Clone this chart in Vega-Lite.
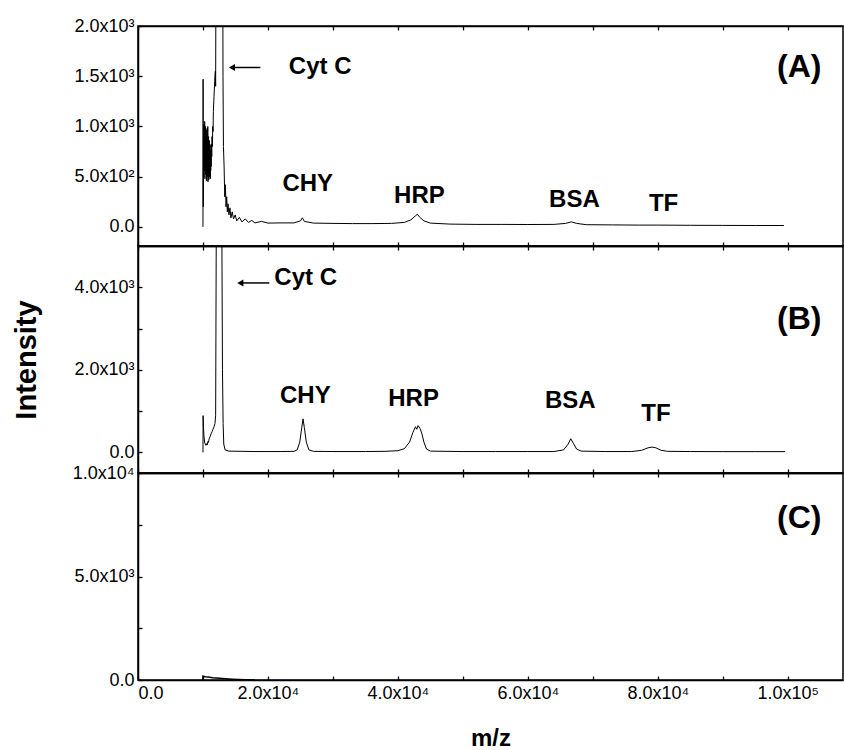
{
  "$schema": "https://vega.github.io/schema/vega-lite/v6.json",
  "background": "white",
  "padding": {"top": 16, "left": 12, "right": 0, "bottom": 5},
  "bounds": "flush",
  "spacing": 0,
  "config": {
    "font": "Liberation Sans",
    "view": {"stroke": "black", "strokeWidth": 1.5},
    "axis": {"grid": false, "domainColor": "black", "domainWidth": 1.5, "tickColor": "black", "tickWidth": 1.3, "tickSize": -4, "labelColor": "black", "labelFont": "Liberation Sans", "labelFontSize": 18, "labelPadding": 8, "titleColor": "black", "titleFont": "Liberation Sans", "titleFontWeight": "bold"}
  },
  "datasets": {
    "specA": [
      {"mz": 10000, "I": 0}, {"mz": 10020, "I": 1470}, {"mz": 10050, "I": 200}, {"mz": 10080, "I": 900}, {"mz": 10110, "I": 650}, {"mz": 10140, "I": 1020}, {"mz": 10170, "I": 560}, {"mz": 10200, "I": 980}, {"mz": 10230, "I": 700}, {"mz": 10260, "I": 1050}, {"mz": 10290, "I": 480}, {"mz": 10320, "I": 940}, {"mz": 10350, "I": 620}, {"mz": 10380, "I": 1000}, {"mz": 10410, "I": 520}, {"mz": 10440, "I": 900}, {"mz": 10470, "I": 700}, {"mz": 10500, "I": 960}, {"mz": 10530, "I": 460}, {"mz": 10560, "I": 880}, {"mz": 10590, "I": 600}, {"mz": 10620, "I": 980}, {"mz": 10650, "I": 500}, {"mz": 10680, "I": 850}, {"mz": 10710, "I": 640}, {"mz": 10740, "I": 1000}, {"mz": 10770, "I": 450}, {"mz": 10800, "I": 820}, {"mz": 10830, "I": 560}, {"mz": 10860, "I": 900}, {"mz": 10890, "I": 470}, {"mz": 10920, "I": 780}, {"mz": 10950, "I": 540}, {"mz": 10980, "I": 860}, {"mz": 11010, "I": 500}, {"mz": 11040, "I": 760}, {"mz": 11070, "I": 580}, {"mz": 11100, "I": 820}, {"mz": 11130, "I": 480}, {"mz": 11160, "I": 700}, {"mz": 11190, "I": 560}, {"mz": 11220, "I": 760}, {"mz": 11250, "I": 600}, {"mz": 11300, "I": 820}, {"mz": 11350, "I": 700}, {"mz": 11400, "I": 900}, {"mz": 11450, "I": 800}, {"mz": 11500, "I": 1000}, {"mz": 11550, "I": 950}, {"mz": 11600, "I": 1150}, {"mz": 11700, "I": 1300}, {"mz": 11800, "I": 1450}, {"mz": 11900, "I": 1550}, {"mz": 11950, "I": 1400}, {"mz": 12000, "I": 2600}, {"mz": 12100, "I": 5000}, {"mz": 12500, "I": 6000}, {"mz": 12900, "I": 4000}, {"mz": 13050, "I": 2500}, {"mz": 13080, "I": 1500}, {"mz": 13150, "I": 800}, {"mz": 13250, "I": 600}, {"mz": 13350, "I": 300}, {"mz": 13450, "I": 420}, {"mz": 13550, "I": 200}, {"mz": 13650, "I": 300}, {"mz": 13750, "I": 150}, {"mz": 13850, "I": 230}, {"mz": 14000, "I": 120}, {"mz": 14150, "I": 190}, {"mz": 14300, "I": 90}, {"mz": 14500, "I": 150}, {"mz": 14700, "I": 80}, {"mz": 14950, "I": 120}, {"mz": 15200, "I": 60}, {"mz": 15600, "I": 95}, {"mz": 16000, "I": 50}, {"mz": 16500, "I": 80}, {"mz": 17000, "I": 45}, {"mz": 17500, "I": 65}, {"mz": 18000, "I": 40}, {"mz": 19000, "I": 55}, {"mz": 20000, "I": 38}, {"mz": 22000, "I": 40}, {"mz": 24000, "I": 40}, {"mz": 25000, "I": 60}, {"mz": 25300, "I": 90}, {"mz": 25600, "I": 55}, {"mz": 27000, "I": 38}, {"mz": 30000, "I": 35}, {"mz": 33000, "I": 33}, {"mz": 36000, "I": 33}, {"mz": 39000, "I": 35}, {"mz": 41000, "I": 45}, {"mz": 42000, "I": 70}, {"mz": 42700, "I": 110}, {"mz": 43000, "I": 126}, {"mz": 43300, "I": 100}, {"mz": 44000, "I": 60}, {"mz": 45000, "I": 38}, {"mz": 48000, "I": 28}, {"mz": 52000, "I": 25}, {"mz": 56000, "I": 25}, {"mz": 60000, "I": 24}, {"mz": 64000, "I": 25}, {"mz": 65800, "I": 35}, {"mz": 66700, "I": 50}, {"mz": 67500, "I": 35}, {"mz": 69000, "I": 22}, {"mz": 73000, "I": 20}, {"mz": 77000, "I": 18}, {"mz": 80000, "I": 18}, {"mz": 85000, "I": 16}, {"mz": 90000, "I": 15}, {"mz": 95000, "I": 14}, {"mz": 99400, "I": 14}
    ],
    "specB": [
      {"mz": 10000, "I": 0}, {"mz": 10020, "I": 890}, {"mz": 10080, "I": 600}, {"mz": 10150, "I": 400}, {"mz": 10250, "I": 250}, {"mz": 10350, "I": 200}, {"mz": 10450, "I": 170}, {"mz": 10550, "I": 210}, {"mz": 10650, "I": 180}, {"mz": 10750, "I": 260}, {"mz": 10850, "I": 240}, {"mz": 10950, "I": 330}, {"mz": 11100, "I": 380}, {"mz": 11250, "I": 450}, {"mz": 11400, "I": 500}, {"mz": 11550, "I": 560}, {"mz": 11700, "I": 620}, {"mz": 11850, "I": 700}, {"mz": 11950, "I": 900}, {"mz": 12050, "I": 5500}, {"mz": 12500, "I": 8000}, {"mz": 12900, "I": 5500}, {"mz": 13000, "I": 2000}, {"mz": 13100, "I": 700}, {"mz": 13200, "I": 200}, {"mz": 13400, "I": 60}, {"mz": 14000, "I": 30}, {"mz": 16000, "I": 25}, {"mz": 18000, "I": 20}, {"mz": 20000, "I": 20}, {"mz": 22000, "I": 20}, {"mz": 24000, "I": 25}, {"mz": 24500, "I": 60}, {"mz": 24900, "I": 250}, {"mz": 25200, "I": 600}, {"mz": 25400, "I": 812}, {"mz": 25600, "I": 600}, {"mz": 25900, "I": 250}, {"mz": 26300, "I": 60}, {"mz": 27000, "I": 25}, {"mz": 30000, "I": 20}, {"mz": 35000, "I": 20}, {"mz": 38000, "I": 25}, {"mz": 40000, "I": 40}, {"mz": 41000, "I": 90}, {"mz": 41800, "I": 250}, {"mz": 42300, "I": 480}, {"mz": 42700, "I": 620}, {"mz": 42900, "I": 560}, {"mz": 43100, "I": 650}, {"mz": 43400, "I": 580}, {"mz": 43700, "I": 450}, {"mz": 44000, "I": 250}, {"mz": 44400, "I": 80}, {"mz": 45000, "I": 30}, {"mz": 50000, "I": 20}, {"mz": 55000, "I": 20}, {"mz": 60000, "I": 20}, {"mz": 64000, "I": 20}, {"mz": 65500, "I": 60}, {"mz": 66200, "I": 200}, {"mz": 66600, "I": 330}, {"mz": 67000, "I": 220}, {"mz": 67500, "I": 80}, {"mz": 68200, "I": 30}, {"mz": 72000, "I": 20}, {"mz": 76000, "I": 20}, {"mz": 77500, "I": 50}, {"mz": 78500, "I": 110}, {"mz": 79100, "I": 128}, {"mz": 79700, "I": 110}, {"mz": 80500, "I": 50}, {"mz": 81500, "I": 25}, {"mz": 85000, "I": 20}, {"mz": 90000, "I": 18}, {"mz": 95000, "I": 18}, {"mz": 99600, "I": 18}
    ],
    "specC": [
      {"mz": 9950, "I": 0}, {"mz": 10000, "I": 190}, {"mz": 10300, "I": 160}, {"mz": 10800, "I": 140}, {"mz": 11500, "I": 110}, {"mz": 12500, "I": 80}, {"mz": 13500, "I": 55}, {"mz": 14500, "I": 35}, {"mz": 15500, "I": 20}, {"mz": 16500, "I": 10}, {"mz": 18000, "I": 3}
    ],
    "labels": [
      {"panel": "A", "mz": 28030, "I": 1587, "label": "Cyt C"},
      {"panel": "A", "mz": 26120, "I": 425, "label": "CHY"},
      {"panel": "A", "mz": 43310, "I": 309, "label": "HRP"},
      {"panel": "A", "mz": 67160, "I": 266, "label": "BSA"},
      {"panel": "A", "mz": 80880, "I": 226, "label": "TF"},
      {"panel": "B", "mz": 25800, "I": 4225, "label": "Cyt C"},
      {"panel": "B", "mz": 25750, "I": 1374, "label": "CHY"},
      {"panel": "B", "mz": 42410, "I": 1294, "label": "HRP"},
      {"panel": "B", "mz": 66520, "I": 1236, "label": "BSA"},
      {"panel": "B", "mz": 79720, "I": 932, "label": "TF"}
    ],
    "tags": [
      {"panel": "A", "mz": 101770, "I": 1587, "label": "(A)"},
      {"panel": "B", "mz": 101770, "I": 3230, "label": "(B)"},
      {"panel": "C", "mz": 101770, "I": 7825, "label": "(C)"}
    ],
    "arrows": [
      {"panel": "A", "mz": 14460, "mz2": 18830, "I": 1587},
      {"panel": "B", "mz": 15750, "mz2": 20210, "I": 4105}
    ]
  },
  "vconcat": [
    {
      "width": 705, "height": 220,
      "resolve": {"axis": {"x": "independent"}},
      "layer": [
        {
          "data": {"name": "specA"},
          "mark": {"type": "line", "clip": true, "color": "black", "strokeWidth": 1},
          "encoding": {
            "x": {"field": "mz", "type": "quantitative", "scale": {"domain": [0, 108500], "nice": false, "zero": false},
                  "axis": {"orient": "bottom", "title": null, "labels": false, "values": [0,10000,20000,30000,40000,50000,60000,70000,80000,90000,100000]}},
            "y": {"field": "I", "type": "quantitative", "scale": {"domain": [-190, 2000], "nice": false, "zero": false},
                  "axis": {"title": null, "values": [0,250,500,750,1000,1250,1500,1750,2000],
                           "labelExpr": "datum.value % 500 ? '' : (datum.value == 0 ? '0.0' : format(datum.value/pow(10,floor(log(datum.value)/LN10+1e-9)),'.1f') + 'x10' + substring('⁰¹²³⁴⁵⁶', floor(log(datum.value)/LN10+1e-9), floor(log(datum.value)/LN10+1e-9)+1))"}}
          }
        },
        {
          "data": {"name": "labels"},
          "transform": [{"filter": "datum.panel == 'A'"}],
          "mark": {"type": "text", "fontWeight": "bold", "fontSize": 24, "color": "black", "baseline": "middle", "align": "center"},
          "encoding": {
            "x": {"field": "mz", "type": "quantitative", "axis": {"orient": "top", "title": null, "labels": false, "values": [0,10000,20000,30000,40000,50000,60000,70000,80000,90000,100000]}},
            "y": {"field": "I", "type": "quantitative"},
            "text": {"field": "label"}
          }
        },
        {
          "data": {"name": "tags"},
          "transform": [{"filter": "datum.panel == 'A'"}],
          "mark": {"type": "text", "fontWeight": "bold", "fontSize": 32, "color": "black", "baseline": "middle", "align": "center"},
          "encoding": {
            "x": {"field": "mz", "type": "quantitative", "axis": null},
            "y": {"field": "I", "type": "quantitative"},
            "text": {"field": "label"}
          }
        },
        {
          "data": {"name": "arrows"},
          "transform": [{"filter": "datum.panel == 'A'"}],
          "mark": {"type": "rule", "color": "black", "strokeWidth": 1.5},
          "encoding": {
            "x": {"field": "mz", "type": "quantitative", "axis": null},
            "x2": {"field": "mz2"},
            "y": {"field": "I", "type": "quantitative"}
          }
        },
        {
          "data": {"name": "arrows"},
          "transform": [{"filter": "datum.panel == 'A'"}],
          "mark": {"type": "point", "shape": "triangle-left", "filled": true, "color": "black", "size": 50, "opacity": 1},
          "encoding": {
            "x": {"field": "mz", "type": "quantitative", "axis": null},
            "y": {"field": "I", "type": "quantitative"}
          }
        }
      ]
    },
    {
      "width": 705, "height": 227,
      "resolve": {"axis": {"x": "independent"}},
      "layer": [
        {
          "data": {"name": "specB"},
          "mark": {"type": "line", "clip": true, "color": "black", "strokeWidth": 1},
          "encoding": {
            "x": {"field": "mz", "type": "quantitative", "scale": {"domain": [0, 108500], "nice": false, "zero": false},
                  "axis": {"orient": "bottom", "title": null, "labels": false, "values": [0,10000,20000,30000,40000,50000,60000,70000,80000,90000,100000]}},
            "y": {"field": "I", "type": "quantitative", "scale": {"domain": [-500, 5000], "nice": false, "zero": false},
                  "axis": {"title": "Intensity", "titleFontSize": 29, "titlePadding": 32, "values": [0,1000,2000,3000,4000],
                           "labelExpr": "datum.value % 2000 ? '' : (datum.value == 0 ? '0.0' : format(datum.value/pow(10,floor(log(datum.value)/LN10+1e-9)),'.1f') + 'x10' + substring('⁰¹²³⁴⁵⁶', floor(log(datum.value)/LN10+1e-9), floor(log(datum.value)/LN10+1e-9)+1))"}}
          }
        },
        {
          "data": {"name": "labels"},
          "transform": [{"filter": "datum.panel == 'B'"}],
          "mark": {"type": "text", "fontWeight": "bold", "fontSize": 24, "color": "black", "baseline": "middle", "align": "center"},
          "encoding": {
            "x": {"field": "mz", "type": "quantitative", "axis": {"orient": "top", "title": null, "labels": false, "values": [0,10000,20000,30000,40000,50000,60000,70000,80000,90000,100000]}},
            "y": {"field": "I", "type": "quantitative"},
            "text": {"field": "label"}
          }
        },
        {
          "data": {"name": "tags"},
          "transform": [{"filter": "datum.panel == 'B'"}],
          "mark": {"type": "text", "fontWeight": "bold", "fontSize": 32, "color": "black", "baseline": "middle", "align": "center"},
          "encoding": {
            "x": {"field": "mz", "type": "quantitative", "axis": null},
            "y": {"field": "I", "type": "quantitative"},
            "text": {"field": "label"}
          }
        },
        {
          "data": {"name": "arrows"},
          "transform": [{"filter": "datum.panel == 'B'"}],
          "mark": {"type": "rule", "color": "black", "strokeWidth": 1.5},
          "encoding": {
            "x": {"field": "mz", "type": "quantitative", "axis": null},
            "x2": {"field": "mz2"},
            "y": {"field": "I", "type": "quantitative"}
          }
        },
        {
          "data": {"name": "arrows"},
          "transform": [{"filter": "datum.panel == 'B'"}],
          "mark": {"type": "point", "shape": "triangle-left", "filled": true, "color": "black", "size": 50, "opacity": 1},
          "encoding": {
            "x": {"field": "mz", "type": "quantitative", "axis": null},
            "y": {"field": "I", "type": "quantitative"}
          }
        }
      ]
    },
    {
      "width": 705, "height": 207,
      "resolve": {"axis": {"x": "independent"}},
      "layer": [
        {
          "data": {"name": "specC"},
          "mark": {"type": "line", "clip": true, "color": "black", "strokeWidth": 1.5},
          "encoding": {
            "x": {"field": "mz", "type": "quantitative", "scale": {"domain": [0, 108500], "nice": false, "zero": false},
                  "axis": {"orient": "bottom", "title": "m/z", "titleFontSize": 24, "titlePadding": 24, "values": [0,10000,20000,30000,40000,50000,60000,70000,80000,90000,100000],
                           "labelExpr": "datum.value % 20000 ? '' : (datum.value == 0 ? '0.0' : format(datum.value/pow(10,floor(log(datum.value)/LN10+1e-9)),'.1f') + 'x10' + substring('⁰¹²³⁴⁵⁶', floor(log(datum.value)/LN10+1e-9), floor(log(datum.value)/LN10+1e-9)+1))"}},
            "y": {"field": "I", "type": "quantitative", "scale": {"domain": [0, 10000], "nice": false, "zero": false},
                  "axis": {"title": null, "values": [0,2500,5000,7500,10000],
                           "labelExpr": "datum.value % 5000 ? '' : (datum.value == 0 ? '0.0' : format(datum.value/pow(10,floor(log(datum.value)/LN10+1e-9)),'.1f') + 'x10' + substring('⁰¹²³⁴⁵⁶', floor(log(datum.value)/LN10+1e-9), floor(log(datum.value)/LN10+1e-9)+1))"}}
          }
        },
        {
          "data": {"name": "tags"},
          "transform": [{"filter": "datum.panel == 'C'"}],
          "mark": {"type": "text", "fontWeight": "bold", "fontSize": 32, "color": "black", "baseline": "middle", "align": "center"},
          "encoding": {
            "x": {"field": "mz", "type": "quantitative", "axis": {"orient": "top", "title": null, "labels": false, "values": [0,10000,20000,30000,40000,50000,60000,70000,80000,90000,100000]}},
            "y": {"field": "I", "type": "quantitative"},
            "text": {"field": "label"}
          }
        }
      ]
    }
  ]
}
